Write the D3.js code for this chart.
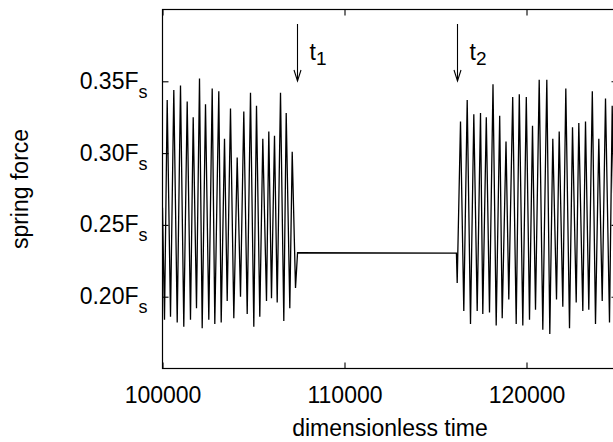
<!DOCTYPE html>
<html>
<head>
<meta charset="utf-8">
<script src="https://cdn.jsdelivr.net/npm/d3@7"></script>
<style>
  body { margin: 0; background: #fff; }
  text { font-family: "Liberation Sans", Arial, Helvetica, sans-serif; fill: #000; }
</style>
</head>
<body>
<svg id="chart"></svg>
<script>
const burstBefore = [
  [100000, 0.262],
  [100110, 0.184], [100258, 0.337], [100440, 0.186], [100621, 0.344],
  [100808, 0.182], [100989, 0.347], [101170, 0.179], [101357, 0.336],
  [101538, 0.184], [101687, 0.325], [101868, 0.192], [102033, 0.352],
  [102181, 0.178], [102363, 0.334], [102544, 0.184], [102731, 0.345],
  [102874, 0.181], [103093, 0.343], [103225, 0.182], [103407, 0.310],
  [103555, 0.197], [103736, 0.331], [103918, 0.185], [104104, 0.297],
  [104286, 0.200], [104467, 0.329], [104654, 0.188], [104835, 0.342],
  [105017, 0.179], [105165, 0.333], [105346, 0.186], [105511, 0.310],
  [105714, 0.197], [105841, 0.315], [105989, 0.199], [106154, 0.312],
  [106302, 0.196], [106484, 0.342], [106665, 0.183], [106797, 0.328],
  [106995, 0.192], [107127, 0.301], [107308, 0.206]
];
const plateau = [[107420, 0.2306], [116150, 0.2304]];
const burstAfter = [
  [116192, 0.2095], [116374, 0.322], [116555, 0.190], [116742, 0.337],
  [116923, 0.181], [117105, 0.327], [117291, 0.190], [117473, 0.328],
  [117599, 0.188], [117791, 0.325], [117967, 0.189], [118159, 0.348],
  [118335, 0.180], [118527, 0.326], [118665, 0.185], [118874, 0.308],
  [119027, 0.198], [119242, 0.339], [119434, 0.181], [119604, 0.341],
  [119797, 0.180], [119989, 0.339], [120165, 0.184], [120330, 0.319],
  [120495, 0.191], [120698, 0.351], [120896, 0.177], [121116, 0.351],
  [121281, 0.174], [121445, 0.310], [121649, 0.198], [121797, 0.315],
  [121995, 0.193], [122160, 0.345], [122363, 0.178], [122528, 0.318],
  [122731, 0.196], [122874, 0.321], [123094, 0.190], [123242, 0.322],
  [123423, 0.191], [123616, 0.343], [123791, 0.181], [123973, 0.310],
  [124160, 0.197], [124341, 0.338], [124561, 0.182], [124709, 0.333],
  [124900, 0.185]
];
const markers = [{ t: 107400, label: "t", sub: "1" }, { t: 116200, label: "t", sub: "2" }];
const xTicks = [100000, 110000, 120000];
const yTicks = [0.20, 0.25, 0.30, 0.35];

const width = 613, height = 442;
const svg = d3.select("#chart").attr("width", width).attr("height", height);

// plot area runs a little past the right edge of the picture
const x = d3.scaleLinear().domain([100000, 125000]).range([162.5, 617.5]);
const y = d3.scaleLinear().domain([0.15, 0.40]).range([368.5, 9.5]);

const trace = burstBefore.concat(plateau, burstAfter);

svg.append("clipPath").attr("id", "plotClip")
  .append("rect")
    .attr("x", x(100000)).attr("y", y(0.40))
    .attr("width", x(125000) - x(100000)).attr("height", y(0.15) - y(0.40));

const line = d3.line().x(d => x(d[0])).y(d => y(d[1]));

svg.append("path")
  .datum(trace)
  .attr("clip-path", "url(#plotClip)")
  .attr("fill", "none")
  .attr("stroke", "#000")
  .attr("stroke-width", 1.3)
  .attr("stroke-linejoin", "miter")
  .attr("d", line);

// axes, ticks pointing inward
const tickLen = 6;
const yAxis = d3.axisLeft(y).tickValues(yTicks).tickSizeInner(-tickLen).tickSizeOuter(0).tickPadding(15);
const yAxisG = svg.append("g").attr("transform", `translate(${x(100000)},0)`).call(yAxis);
yAxisG.selectAll("text").each(function(d) {
  const t = d3.select(this).text(null).attr("dy", "0.30em").style("font-size", "23px");
  t.append("tspan").text(d.toFixed(2) + "F");
  t.append("tspan").text("s").attr("dy", 9).style("font-size", "18px");
});

const yAxisR = d3.axisRight(y).tickValues(yTicks).tickSizeInner(-tickLen).tickSizeOuter(0).tickFormat("");
svg.append("g").attr("transform", `translate(${x(125000)},0)`).call(yAxisR);

const xAxis = d3.axisBottom(x).tickValues(xTicks).tickSizeInner(-tickLen).tickSizeOuter(0).tickPadding(18);
const xAxisG = svg.append("g").attr("transform", `translate(0,${y(0.15)})`).call(xAxis);
xAxisG.selectAll("text").style("font-size", "23px").attr("dy", "0.71em").text(d => d3.format("d")(d));

const xAxisT = d3.axisTop(x).tickValues(xTicks).tickSizeInner(-tickLen).tickSizeOuter(0).tickFormat("");
svg.append("g").attr("transform", `translate(0,${y(0.40)})`).call(xAxisT);

svg.selectAll(".domain").remove();
svg.selectAll(".tick line").attr("stroke", "#000").attr("stroke-width", 1.1);

// frame
svg.append("rect")
  .attr("x", x(100000)).attr("y", y(0.40))
  .attr("width", x(125000) - x(100000)).attr("height", y(0.15) - y(0.40))
  .attr("fill", "none").attr("stroke", "#000").attr("stroke-width", 1.2);

// arrows marking t1 and t2
const arrowTop = 24, arrowTip = 81;
markers.forEach(m => {
  const ax = Math.round(x(m.t)) + 0.5;
  const g = svg.append("g").attr("stroke", "#000").attr("stroke-width", 1.1).attr("fill", "none");
  g.append("line").attr("x1", ax).attr("x2", ax).attr("y1", arrowTop).attr("y2", arrowTip);
  g.append("path").attr("d", `M${ax - 3.5},${arrowTip - 11}L${ax},${arrowTip}L${ax + 3.5},${arrowTip - 11}`);
  const lbl = svg.append("text").attr("x", ax + 12).attr("y", 60).style("font-size", "23px");
  lbl.append("tspan").text(m.label);
  lbl.append("tspan").text(m.sub).attr("dy", 5).style("font-size", "19px");
});

// axis titles
svg.append("text")
  .attr("x", (x(100000) + x(125000)) / 2)
  .attr("y", 436)
  .attr("text-anchor", "middle")
  .style("font-size", "23px")
  .text("dimensionless time");

svg.append("text")
  .attr("transform", `translate(28,${(y(0.15) + y(0.40)) / 2}) rotate(-90)`)
  .attr("text-anchor", "middle")
  .style("font-size", "23px")
  .text("spring force");
</script>
</body>
</html>
